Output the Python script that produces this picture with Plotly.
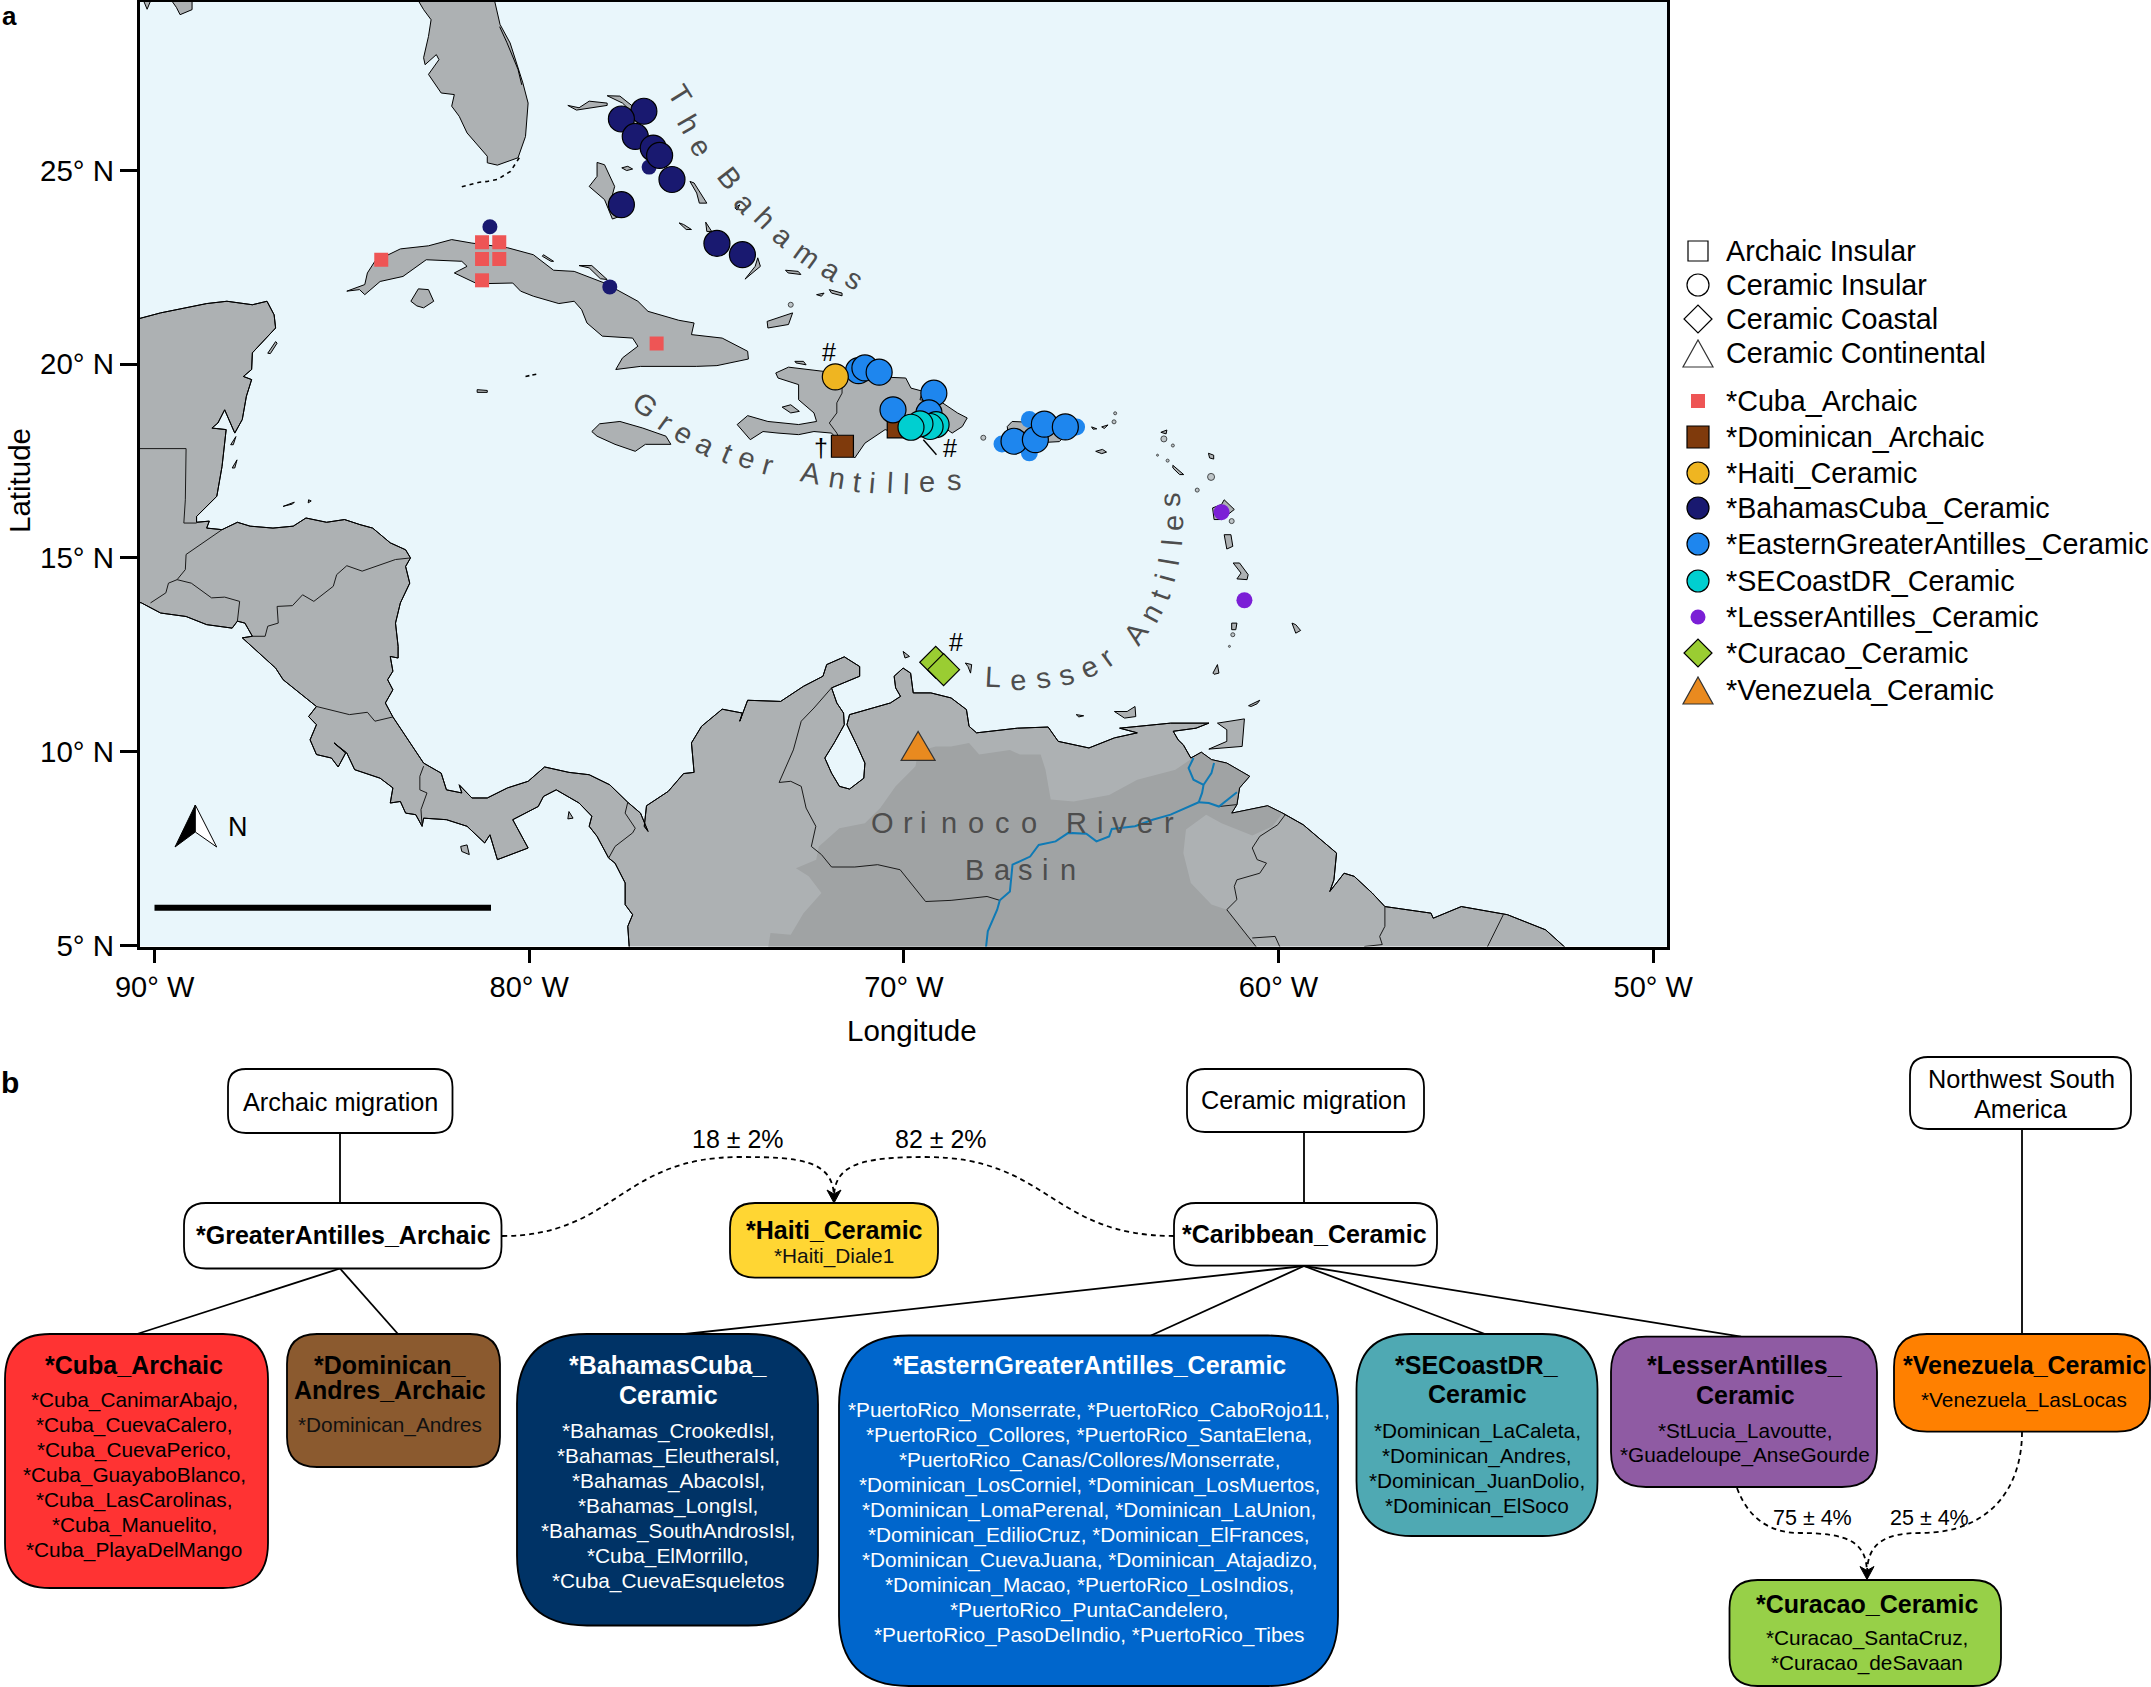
import plotly.graph_objects as go

W, H = 2151, 1687
FONT = "Liberation Sans"
# ---------- map data (lon, lat) ----------
mainland = [(-91.3,21.5),(-90.5,21.15),(-89.84,21.32),(-88.61,21.56),(-88.07,21.62),(-87.39,21.53),(-87.0,21.62),(-86.81,21.27),(-86.77,20.93),(-87.05,20.63),(-87.39,20.29),(-87.41,19.86),(-87.63,19.68),(-87.41,19.6),(-87.55,19.17),(-87.66,18.57),(-87.86,18.22),(-88.13,18.82),(-88.31,18.48),(-88.47,18.35),(-88.09,18.31),(-88.2,17.36),(-88.27,17.02),(-88.34,16.59),(-88.88,16.07),(-88.88,15.92),(-88.54,15.95),(-88.61,15.77),(-88.2,15.73),(-87.79,15.92),(-87.45,15.82),(-86.84,15.77),(-86.3,15.82),(-85.96,16.03),(-85.41,15.92),(-84.93,15.99),(-84.52,15.86),(-84.18,15.77),(-83.71,15.39),(-83.3,15.21),(-83.17,15.0),(-83.3,14.78),(-83.19,14.35),(-83.44,13.84),(-83.57,13.32),(-83.5,12.72),(-83.5,12.42),(-83.71,12.46),(-83.64,12.08),(-83.78,11.86),(-83.64,11.6),(-83.84,11.26),(-83.64,10.9),(-83.3,10.4),(-82.82,9.71),(-82.35,9.45),(-82.21,9.02),(-81.8,8.94),(-81.87,9.15),(-81.53,8.81),(-81.12,8.81),(-80.58,9.07),(-80.03,9.24),(-79.59,9.61),(-78.94,9.47),(-78.4,9.41),(-77.85,9.15),(-77.37,8.7),(-77.03,8.42),(-76.83,7.95),(-76.93,8.08),(-76.87,8.61),(-76.29,8.98),(-75.88,9.44),(-75.6,9.47),(-75.67,10.23),(-75.4,10.66),(-74.85,11.1),(-74.31,11.0),(-74.38,10.79),(-74.17,11.33),(-73.29,11.3),(-72.68,11.69),(-72.16,11.95),(-72.06,12.25),(-71.59,12.45),(-71.18,12.2),(-71.18,11.95),(-71.93,11.65),(-71.79,11.26),(-71.61,11.0),(-71.59,10.7),(-71.86,10.23),(-72.11,9.84),(-71.93,9.45),(-71.72,9.11),(-71.45,9.04),(-71.07,9.32),(-71.04,9.71),(-71.24,10.14),(-71.52,10.7),(-71.45,10.96),(-70.36,11.26),(-70.09,11.43),(-70.22,11.65),(-70.26,11.95),(-70.02,12.16),(-69.82,12.03),(-69.75,11.52),(-69.28,11.52),(-68.74,11.39),(-68.33,11.09),(-68.26,10.66),(-68.06,10.49),(-66.97,10.61),(-66.15,10.64),(-65.88,10.27),(-65.06,10.1),(-64.38,10.36),(-63.77,10.49),(-64.24,10.61),(-62.88,10.74),(-61.86,10.74),(-62.2,10.61),(-62.81,10.53),(-62.68,10.31),(-62.54,10.18),(-62.34,9.84),(-62.06,9.99),(-61.79,9.8),(-61.38,9.71),(-60.77,9.37),(-61.04,9.07),(-61.11,8.64),(-61.25,8.42),(-60.29,8.61),(-59.89,8.42),(-59.34,8.12),(-58.45,7.39),(-58.52,6.7),(-58.63,6.4),(-58.25,6.87),(-57.98,6.79),(-57.5,6.36),(-57.16,6.01),(-55.93,5.84),(-55.87,5.71),(-55.12,6.01),(-54.03,5.84),(-53.89,5.8),(-52.87,5.41),(-52.33,4.94),(-52.33,4.5),(-77.33,4.5),(-77.33,4.94),(-77.37,5.5),(-77.24,5.8),(-77.44,6.06),(-77.44,6.62),(-77.71,7.13),(-77.88,7.26),(-78.19,7.82),(-78.4,8.08),(-78.33,8.34),(-78.67,8.68),(-79.28,9.02),(-79.62,8.85),(-79.76,8.59),(-80.44,8.25),(-80.03,7.52),(-80.85,7.22),(-81.05,7.86),(-81.19,7.65),(-81.66,8.08),(-82.21,8.25),(-82.82,8.29),(-82.86,8.08),(-83.03,8.38),(-83.3,8.42),(-83.44,8.72),(-83.71,8.68),(-83.64,9.07),(-83.98,9.32),(-84.66,9.54),(-84.87,9.97),(-85.21,10.23),(-84.9,9.97),(-85.1,9.61),(-85.28,9.84),(-85.68,9.93),(-85.85,10.31),(-85.68,10.7),(-85.89,10.91),(-85.68,11.17),(-86.57,11.86),(-86.77,12.16),(-87.66,12.94),(-87.39,12.98),(-87.59,13.32),(-87.79,13.37),(-87.93,13.19),(-88.61,13.28),(-89.16,13.49),(-89.84,13.58),(-90.35,13.84),(-91.3,14.1)]

florida = [(-83.1,29.6),(-82.82,29.14),(-82.62,28.88),(-82.69,28.45),(-82.82,27.9),(-82.78,27.72),(-82.48,27.98),(-82.41,27.85),(-82.69,27.47),(-82.35,26.99),(-82.0,26.95),(-82.07,26.65),(-81.87,26.39),(-81.66,25.96),(-81.12,25.36),(-81.12,25.19),(-80.85,25.13),(-80.3,25.32),(-80.1,25.87),(-80.03,26.73),(-80.17,27.25),(-80.51,28.28),(-80.78,28.76),(-80.98,29.6)]

cuba = [(-84.87,21.88),(-84.39,22.05),(-84.32,22.35),(-84.12,22.65),(-83.44,22.97),(-82.69,23.05),(-82.07,23.21),(-81.53,23.12),(-80.58,23.0),(-79.89,22.82),(-79.35,22.42),(-78.8,22.39),(-77.99,22.09),(-77.51,21.83),(-77.1,21.62),(-76.83,21.36),(-76.01,21.13),(-75.6,21.06),(-75.67,20.76),(-74.85,20.67),(-74.17,20.33),(-74.15,20.13),(-74.99,19.96),(-75.54,19.94),(-77.03,19.94),(-77.69,19.86),(-77.51,20.16),(-77.1,20.46),(-77.24,20.67),(-78.05,20.72),(-78.46,21.06),(-78.6,21.4),(-78.8,21.62),(-79.21,21.56),(-79.89,21.75),(-80.23,21.88),(-80.44,22.09),(-81.39,22.07),(-82.0,22.35),(-81.66,22.52),(-81.8,22.65),(-82.75,22.69),(-83.37,22.26),(-83.98,22.13),(-84.39,21.79),(-84.53,21.92)]

hispaniola = [(-73.42,19.77),(-73.08,19.92),(-72.13,19.81),(-71.65,19.68),(-70.9,19.68),(-69.95,19.64),(-69.81,19.38),(-69.5,19.3),(-69.57,19.08),(-68.97,19.0),(-68.57,18.74),(-68.31,18.61),(-68.44,18.39),(-68.71,18.22),(-68.84,18.31),(-69.17,18.22),(-70.22,18.22),(-70.5,18.31),(-71.04,17.96),(-71.31,17.58),(-71.65,17.92),(-71.93,18.22),(-72.4,18.26),(-72.81,18.18),(-73.36,18.22),(-73.76,18.26),(-74.1,18.05),(-74.45,18.44),(-74.17,18.67),(-73.63,18.52),(-72.81,18.44),(-72.33,18.52),(-72.4,18.74),(-72.81,19.08),(-72.81,19.47),(-73.36,19.64)]

islands = [
    [(-90.35,29.5),(-90.2,29.15),(-90.05,29.5)],
    [(-89.64,29.5),(-89.42,29.2),(-89.32,29.01),(-89.0,29.14),(-89.0,29.5)],
    [(-67.24,18.39),(-67.11,18.52),(-66.0,18.47),(-65.6,18.38),(-65.65,18.2),(-65.85,18.0),(-66.8,17.95),(-67.2,17.95)],
    [(-78.33,18.26),(-78.12,18.46),(-77.58,18.52),(-76.97,18.35),(-76.35,18.14),(-76.22,17.93),(-76.9,17.93),(-77.17,17.75),(-77.71,17.93),(-78.19,18.14)],
    [(-83.16,21.62),(-82.96,21.94),(-82.69,21.92),(-82.55,21.62),(-82.82,21.45),(-83.0,21.5)],
    [(-73.25,18.89),(-73.02,18.95),(-72.79,18.78),(-73.02,18.74)],
    [(-72.91,20.07),(-72.68,20.07),(-72.61,19.98),(-72.88,20.03)],
    [(-78.97,26.67),(-78.74,26.55),(-77.92,26.67),(-77.92,26.73),(-78.4,26.78),(-78.67,26.61)],
    [(-77.92,26.92),(-77.58,26.91),(-77.24,26.65),(-77.03,26.22),(-77.24,26.48),(-77.51,26.73)],
    [(-78.19,25.2),(-77.99,25.14),(-77.72,24.58),(-77.79,24.33),(-77.58,23.81),(-77.78,23.74),(-77.99,24.24),(-78.4,24.58),(-78.19,24.84)],
    [(-77.53,25.06),(-77.37,25.1),(-77.24,25.03),(-77.4,24.99)],
    [(-75.71,24.71),(-75.6,24.67),(-75.26,24.15),(-75.46,24.15),(-75.53,24.41)],
    [(-74.51,24.03),(-74.38,24.11),(-74.45,23.97)],
    [(-76.0,23.64),(-75.88,23.6),(-75.67,23.47),(-75.81,23.47)],
    [(-75.29,23.66),(-75.13,23.42),(-75.26,23.42)],
    [(-73.9,22.74),(-73.83,22.52),(-74.24,22.19),(-73.97,22.52)],
    [(-73.16,22.42),(-72.82,22.39),(-72.75,22.31),(-73.09,22.35)],
    [(-72.33,21.79),(-72.13,21.83),(-72.2,21.75)],
    [(-71.99,21.92),(-71.65,21.83),(-71.65,21.76),(-71.93,21.83)],
    [(-73.65,21.1),(-73.35,21.19),(-72.97,21.32),(-73.08,21.02),(-73.63,20.93)],
    [(-86.98,20.28),(-86.77,20.58),(-86.73,20.54),(-86.91,20.27)],
    [(-79.62,22.82),(-79.35,22.65),(-79.42,22.65),(-79.65,22.78)],
    [(-78.67,22.54),(-78.33,22.54),(-77.92,22.18),(-78.1,22.2),(-78.4,22.48)],
    [(-81.39,19.34),(-81.12,19.32),(-81.12,19.27),(-81.39,19.27)],
    [(-86.57,16.33),(-86.27,16.44),(-86.32,16.39)],
    [(-85.89,16.5),(-85.82,16.47),(-85.9,16.42)],
    [(-87.97,17.92),(-87.83,18.13),(-87.9,17.92)],
    [(-87.93,17.32),(-87.8,17.53),(-87.86,17.32)],
    [(-81.83,7.56),(-81.66,7.6),(-81.6,7.35),(-81.8,7.43)],
    [(-78.94,8.46),(-78.83,8.29),(-78.97,8.27)],
    [(-70.02,12.59),(-69.85,12.46),(-69.97,12.42)],
    [(-68.36,12.29),(-68.19,12.25),(-68.22,12.03),(-68.29,12.2)],
    [(-64.38,11.04),(-64.04,11.04),(-63.83,11.17),(-63.81,10.91),(-64.11,10.87)],
    [(-65.4,10.96),(-65.2,10.93),(-65.33,10.9)],
    [(-61.63,10.74),(-60.91,10.85),(-60.97,10.14),(-61.38,10.1),(-61.86,10.07),(-61.38,10.27),(-61.38,10.57)],
    [(-60.8,11.19),(-60.5,11.33),(-60.57,11.24),(-60.73,11.17)],
    [(-61.75,12.03),(-61.63,12.25),(-61.59,12.03),(-61.72,12.0)],
    [(-59.64,13.32),(-59.54,13.28),(-59.41,13.13),(-59.54,13.06)],
    [(-61.25,13.32),(-61.11,13.32),(-61.14,13.15),(-61.25,13.15)],
    [(-61.21,14.87),(-61.04,14.87),(-60.81,14.57),(-60.84,14.44),(-61.11,14.46),(-61.0,14.61)],
    [(-61.45,15.6),(-61.27,15.6),(-61.22,15.3),(-61.38,15.23)],
    [(-61.76,16.29),(-61.52,16.38),(-61.45,16.5),(-61.18,16.25),(-61.52,15.99),(-61.72,15.99)],
    [(-61.87,17.7),(-61.73,17.65),(-61.73,17.55),(-61.84,17.58)],
    [(-62.82,17.39),(-62.53,17.15),(-62.64,17.15),(-62.82,17.32)],
    [(-63.14,18.24),(-62.98,18.3),(-63.0,18.2)],
    [(-64.88,17.75),(-64.7,17.8),(-64.59,17.73),(-64.72,17.69)],
    [(-64.99,18.38),(-64.85,18.33),(-64.95,18.32)],
    [(-64.72,18.38),(-64.55,18.43),(-64.65,18.34)],
]
tiny_lon = [-73.02,-62.17,-61.25,-61.22,-61.31,-61.8,-62.96,-63.23,-62.82,-63.06,-64.39,-64.36,-67.88]
tiny_lat = [21.53,16.75,15.95,13.02,12.72,17.09,17.51,17.65,17.9,18.07,18.51,18.73,18.1]
tiny_size = [5,4,5,4,2,7,3,2,3,6,4,3,5]

keys_lon = [-81.8,-81.33,-81.12,-80.85,-80.5,-80.24]
keys_lat = [24.57,24.69,24.71,24.76,24.97,25.36]
cayman_lon = [-80.1,-79.76]
cayman_lat = [19.68,19.75]
lagoon = [(-80.79,28.7),(-80.6,28.3),(-80.3,27.6),(-80.2,27.2)]

borders = [
    [(-91.3,17.82),(-89.16,17.82),(-89.18,16.5),(-89.22,15.9),(-88.88,15.9)],
    [(-88.2,15.73),(-89.16,15.09),(-89.18,14.7),(-89.4,14.44),(-89.63,14.35),(-89.7,14.1),(-90.11,13.84)],
    [(-89.4,14.44),(-89.02,14.35),(-88.48,13.97),(-88.13,13.99),(-87.73,13.88),(-87.79,13.37)],
    [(-83.17,15.0),(-83.57,14.96),(-84.46,14.66),(-84.87,14.8),(-85.14,14.57),(-85.23,14.27),(-85.75,13.88),(-86.05,14.05),(-86.32,13.77),(-86.73,13.75),(-86.7,13.32),(-86.98,13.24),(-87.05,12.98),(-87.39,12.98)],
    [(-85.68,11.17),(-84.8,10.96),(-84.32,11.02),(-84.12,10.79),(-83.64,10.9)],
    [(-82.82,9.63),(-82.92,9.37),(-82.92,9.02),(-82.73,8.94),(-82.89,8.51),(-82.86,8.08)],
    [(-77.88,7.26),(-77.71,7.56),(-77.24,7.91),(-77.17,8.03),(-77.44,8.42),(-77.37,8.7)],
    [(-71.93,11.65),(-72.4,11.13),(-72.74,10.79),(-72.95,10.05),(-73.33,9.21),(-73.02,9.24),(-72.74,9.11),(-72.61,8.55),(-72.35,8.08),(-72.47,7.56),(-72.2,7.35),(-71.93,7.03),(-71.31,7.03),(-70.7,7.09),(-70.1,6.96),(-69.42,6.14),(-68.74,6.17),(-67.78,6.27),(-67.44,6.17)],
    [(-59.82,8.38),(-60.02,8.12),(-60.5,7.82),(-60.7,7.52),(-60.57,7.22),(-60.32,7.13),(-60.5,6.87),(-61.11,6.7),(-61.18,6.53),(-61.11,6.19),(-61.38,5.93),(-60.57,4.94)],
    [(-60.7,5.2),(-60.09,5.24),(-59.95,4.94)],
    [(-57.16,6.01),(-57.16,5.5),(-57.3,5.24),(-57.23,5.03),(-57.71,4.98)],
    [(-54.0,5.8),(-54.44,4.94)],
    [(-71.65,19.68),(-71.65,19.25),(-71.79,19.0),(-71.79,18.74),(-71.99,18.48),(-71.79,18.22),(-71.65,17.92)],
    [(-61.59,8.59),(-61.11,8.64)],
]

basin = [(-73.7,4.5),(-73.56,5.33),(-73.02,5.28),(-72.68,5.84),(-72.2,6.36),(-72.54,6.79),(-72.88,7.0),(-72.34,7.22),(-72.27,7.56),(-71.72,8.03),(-71.04,8.16),(-70.63,8.55),(-70.22,9.11),(-69.69,9.63),(-69.62,10.01),(-69.15,10.14),(-68.74,10.14),(-68.26,10.23),(-67.99,9.93),(-67.17,10.05),(-66.9,9.93),(-66.35,9.93),(-66.22,9.54),(-66.08,8.77),(-65.47,8.72),(-64.52,8.89),(-63.77,9.28),(-62.75,9.54),(-62.34,9.81),(-62.06,9.99),(-61.79,9.8),(-61.38,9.71),(-60.77,9.37),(-61.04,9.07),(-61.11,8.64),(-61.25,8.42),(-60.29,8.61),(-59.89,8.42),(-60.16,8.08),(-60.7,7.84),(-61.52,8.16),(-61.93,8.38),(-62.47,8.0),(-62.54,7.39),(-62.34,6.62),(-61.79,6.06),(-61.38,5.93),(-60.57,4.94),(-60.57,4.5)]

orinoco = [(-67.81,4.94),(-67.76,5.37),(-67.51,5.93),(-67.44,6.17),(-67.17,6.4),(-67.1,7.09),(-66.63,7.3),(-66.4,7.6),(-65.95,7.69),(-65.61,7.91),(-65.13,7.89),(-64.86,7.69),(-64.52,7.82),(-64.45,8.01),(-63.83,8.08),(-63.36,8.25),(-62.88,8.38),(-62.13,8.7)]
orinoco_n = [(-62.13,8.7),(-62.04,8.94),(-62.0,9.15),(-61.79,9.45),(-61.72,9.71)]
orinoco_w = [(-62.0,9.15),(-62.27,9.28),(-62.4,9.58),(-62.27,9.84)]
orinoco_e = [(-62.13,8.7),(-61.86,8.68),(-61.59,8.59),(-61.11,8.96)]

# ---------- archaeological sites ----------
cuba_arch_lon = [-83.95,-81.26,-80.80,-81.26,-80.80,-81.26,-76.60]
cuba_arch_lat = [22.69,23.14,23.14,22.71,22.71,22.16,20.53]
dom_arch_lon = [-71.64,-70.15]
dom_arch_lat = [17.88,18.38]
haiti_lon = [-71.83]
haiti_lat = [19.67]
bahamas_small_lon = [-76.80,-81.05,-77.85]
bahamas_small_lat = [25.08,23.54,21.99]
bahamas_lon = [-76.94,-77.54,-77.17,-76.69,-76.52,-76.19,-77.54,-74.99,-74.31]
bahamas_lat = [26.52,26.32,25.87,25.57,25.38,24.76,24.11,23.11,22.82]
egAnt_small_lon = [-67.38,-66.65,-66.65,-65.39]
egAnt_small_lat = [17.94,18.57,17.71,18.38]
egAnt_lon = [-71.21,-71.04,-70.66,-70.29,-69.20,-69.33,-67.06,-66.49,-66.25,-65.69]
egAnt_lat = [19.83,19.90,19.79,18.82,19.25,18.74,18.01,18.05,18.45,18.38]
secoast_lon = [-69.14,-69.30,-69.57,-69.81]
secoast_lat = [18.44,18.39,18.46,18.37]
lesser_lon = [-61.52,-60.91]
lesser_lat = [16.18,13.91]
curacao_lon = [-69.15,-68.94]
curacao_lat = [12.31,12.12]
venezuela_lon = -69.62
venezuela_lat = 10.14

# ---------- axis labels ----------
x_tickvals = [-90,-80,-70,-60,-50]
x_ticktext = ["90° W","80° W","70° W","60° W","50° W"]
y_tickvals = [5,10,15,20,25]
y_ticktext = ["5° N","10° N","15° N","20° N","25° N"]

# ---------- curved map lettering: letter, x, y, angle ----------
lbl_bahamas = [("T",680,95,58),("h",689,124,60),("e",701,147,58),("B",729.5,178,52),("a",745,203,48),("h",765,218,45),("a",783,236,40),("m",807,255,36),("a",831.5,270,32),("s",854.5,279,30)]
lbl_greater = [("G",645,405,38),("r",666,422,36),("e",683.5,433,33),("a",705.5,445,28),("t",727,453,23),("e",747,458,19),("r",768,465,15),("A",811,473,11),("n",836.6,478,9),("t",857,482,7),("i",872,483,5),("l",890,483,3),("l",905.5,484,2),("e",927,482,0),("s",954,480,-2)]
lbl_lesser = [("L",993,677,3),("e",1018,680,-5),("s",1043,678,-10),("s",1066,675,-16),("e",1089,667,-25),("r",1107,657,-36),("A",1136,633,-55),("n",1151,613,-62),("t",1160,595,-70),("i",1165,578,-75),("l",1169,562,-80),("l",1172,543,-85),("e",1173,523,-88),("s",1170,500,-92)]
lbl_orinoco = [("O",882.6,823,0),("r",907.6,823,0),("i",923,823,0),("n",948.5,823,0),("o",975.5,823,0),("c",1002,823,0),("o",1028.6,823,0),("R",1076,823,0),("i",1100,823,0),("v",1119,823,0),("e",1145,823,0),("r",1169,823,0)]
lbl_basin = [("B",974,870,0),("a",1002,870,0),("s",1025,870,0),("i",1045,870,0),("n",1068,870,0)]

# ---------- legend ----------
leg_names = ["Archaic Insular","Ceramic Insular","Ceramic Coastal","Ceramic Continental","*Cuba_Archaic","*Dominican_Archaic","*Haiti_Ceramic","*BahamasCuba_Ceramic","*EasternGreaterAntilles_Ceramic","*SECoastDR_Ceramic","*LesserAntilles_Ceramic","*Curacao_Ceramic","*Venezuela_Ceramic"]
leg_y = [251,285,319,353,401,437,473,508,544,581,617,653,690]
leg_symbols = ["square","circle","diamond",None,"square","square","circle","circle","circle","circle","circle","diamond",None]
leg_sizes = [20,22,21.5,None,14,22,22,22,22,22,15,21.5,None]
leg_fills = ["white","white","white","white","#ee5555","#7f3a0c","#efb521","#191970","#1e86ee","#00cfd0","#7b1fd6","#9acd32","#e98a1f"]
leg_outline = [1,1,1,1,0,1,1,1,1,1,0,1,1]

# ---------- panel b: boxes ----------
boxes = [
    (228,452.5,1069,1133,18,"white"),
    (184,501.5,1203,1268.5,22,"white"),
    (5,268,1334,1588,45,"#ff3333"),
    (287,500,1334,1467,30,"#8b5a2f"),
    (517,818,1334,1625.5,70,"#003366"),
    (730,938,1203,1277.6,25,"#ffd633"),
    (1187,1424,1069,1132,18,"white"),
    (1174,1437,1203,1265.6,22,"white"),
    (839,1338,1335.5,1686,70,"#0066cc"),
    (1356.5,1597.5,1334,1536,55,"#4fa9b3"),
    (1611,1877,1336.7,1487,35,"#8f5ba3"),
    (1894,2150,1334,1431.7,33,"#ff8000"),
    (1729.5,2001,1580,1686,28,"#97d048"),
    (1910,2131,1057,1129,18,"white"),
]
links = [
    (340,1133,340,1203),(340,1268.5,137,1334),(340,1268.5,398,1334),
    (1304,1132,1304,1203),(1304,1266,685,1334),(1304,1266,1151,1335.5),
    (1304,1266,1485,1334),(1304,1266,1741,1336.7),(2022,1129,2022,1334),
]
curves = [
    "M502,1236 C615,1236 620,1157 740,1157 C800,1157 834,1160 834,1198",
    "M1174,1236 C1050,1236 1050,1157 925,1157 C860,1157 834,1165 834,1198",
    "M1737,1488 C1750,1523 1775,1533 1800,1533 C1850,1533 1867,1543 1867,1574",
    "M2022,1432 C2022,1488 1990,1533 1920,1533 C1885,1533 1867,1543 1867,1574",
]
arrow_tips = [(834,1203),(1867,1579.5)]

# (x, y, text, size, bold, colour)
T, S = 25, 20.8
texts = [
    (340,1102,"Archaic migration",25.3,False,"black"),
    (1303.5,1100,"Ceramic migration",25.3,False,"black"),
    (2021,1079,"Northwest South",25.3,False,"black"),
    (2021,1109,"America",25.3,False,"black"),
    (343,1235,"*GreaterAntilles_Archaic",T,True,"black"),
    (1304.5,1234,"*Caribbean_Ceramic",T,True,"black"),
    (834,1230,"*Haiti_Ceramic",T,True,"black"),
    (834,1256,"*Haiti_Diale1",S,False,"#111111"),
    (738,1139,"18 ± 2%",25,False,"black"),
    (941,1139,"82 ± 2%",25,False,"black"),
    (1812,1518,"75 ± 4%",21.5,False,"black"),
    (1929,1518,"25 ± 4%",21.5,False,"black"),
    (134,1365,"*Cuba_Archaic",T,True,"black"),
    (390,1365,"*Dominican_",T,True,"black"),
    (390,1390,"Andres_Archaic",T,True,"black"),
    (390,1425,"*Dominican_Andres",S,False,"#111111"),
    (668,1365,"*BahamasCuba_",T,True,"white"),
    (668,1395,"Ceramic",T,True,"white"),
    (1089,1365,"*EasternGreaterAntilles_Ceramic",T,True,"white"),
    (1477,1365,"*SECoastDR_",T,True,"black"),
    (1477,1394,"Ceramic",T,True,"black"),
    (1745,1365,"*LesserAntilles_",T,True,"black"),
    (1745,1395,"Ceramic",T,True,"black"),
    (1745,1430.5,"*StLucia_Lavoutte,",S,False,"black"),
    (1745,1455.3,"*Guadeloupe_AnseGourde",S,False,"black"),
    (2024,1365,"*Venezuela_Ceramic",T,True,"black"),
    (2024,1400.3,"*Venezuela_LasLocas",S,False,"black"),
    (1867,1603.5,"*Curacao_Ceramic",T,True,"black"),
    (1867,1638.3,"*Curacao_SantaCruz,",S,False,"black"),
    (1867,1663,"*Curacao_deSavaan",S,False,"black"),
]
cuba_sites = ["*Cuba_CanimarAbajo,","*Cuba_CuevaCalero,","*Cuba_CuevaPerico,","*Cuba_GuayaboBlanco,","*Cuba_LasCarolinas,","*Cuba_Manuelito,","*Cuba_PlayaDelMango"]
bahamas_sites = ["*Bahamas_CrookedIsl,","*Bahamas_EleutheraIsl,","*Bahamas_AbacoIsl,","*Bahamas_LongIsl,","*Bahamas_SouthAndrosIsl,","*Cuba_ElMorrillo,","*Cuba_CuevaEsqueletos"]
eastern_sites = ["*PuertoRico_Monserrate, *PuertoRico_CaboRojo11,","*PuertoRico_Collores, *PuertoRico_SantaElena,","*PuertoRico_Canas/Collores/Monserrate,","*Dominican_LosCorniel, *Dominican_LosMuertos,","*Dominican_LomaPerenal, *Dominican_LaUnion,","*Dominican_EdilioCruz, *Dominican_ElFrances,","*Dominican_CuevaJuana, *Dominican_Atajadizo,","*Dominican_Macao, *PuertoRico_LosIndios,","*PuertoRico_PuntaCandelero,","*PuertoRico_PasoDelIndio, *PuertoRico_Tibes"]
secoast_sites = ["*Dominican_LaCaleta,","*Dominican_Andres,","*Dominican_JuanDolio,","*Dominican_ElSoco"]
for names, x0, y0, col in [(cuba_sites,134,1400,"black"),(bahamas_sites,668,1430.5,"white"),(eastern_sites,1089,1410,"white"),(secoast_sites,1477,1430.5,"black")]:
    for i, n in enumerate(names):
        texts.append((x0, y0+i*25, n, S, False, col))


def xy(pts, close=False):
    xs = [p[0] for p in pts]
    ys = [p[1] for p in pts]
    if close:
        xs.append(xs[0]); ys.append(ys[0])
    return xs, ys


fig = go.Figure()


def poly(pts, fill, line=True):
    x, y = xy(pts, True)
    fig.add_trace(go.Scatter(x=x, y=y, mode="lines", fill="toself", fillcolor=fill,
                             line=dict(color="black" if line else "rgba(0,0,0,0)", width=1 if line else 0),
                             hoverinfo="skip", showlegend=False, xaxis="x", yaxis="y"))


def path(pts, color="#111111", width=1, dash=None):
    x, y = xy(pts)
    fig.add_trace(go.Scatter(x=x, y=y, mode="lines", line=dict(color=color, width=width, dash=dash),
                             hoverinfo="skip", showlegend=False, xaxis="x", yaxis="y"))


LAND, DARK = "#adb1b3", "#a0a3a4"
poly(mainland, LAND)
poly(basin, DARK, line=False)
path(mainland + mainland[:1], "black", 1)
poly(florida, LAND)
poly(cuba, LAND)
poly(hispaniola, LAND)
for isl in islands:
    poly(isl, LAND)
for b in borders:
    path(b, "#1a1a1a", 1)
path(lagoon, "black", 1)
fig.add_trace(go.Scatter(x=keys_lon, y=keys_lat, mode="lines", line=dict(color="black", width=1.6, dash="4px,4px"), showlegend=False, hoverinfo="skip"))
fig.add_trace(go.Scatter(x=cayman_lon, y=cayman_lat, mode="lines", line=dict(color="black", width=1.6, dash="4px,3px"), showlegend=False, hoverinfo="skip"))
fig.add_trace(go.Scatter(x=tiny_lon, y=tiny_lat, mode="markers", marker=dict(size=tiny_size, color=LAND, line=dict(color="black", width=1)), showlegend=False, hoverinfo="skip"))
for r in (orinoco, orinoco_n, orinoco_w, orinoco_e):
    path(r, "#0f7ab5", 2)


def sites(lon, lat, symbol, size, color, outline=True):
    fig.add_trace(go.Scatter(x=lon, y=lat, mode="markers",
                             marker=dict(symbol=symbol, size=size, color=color,
                                         line=dict(color="black", width=1.2 if outline else 0)),
                             showlegend=False, hoverinfo="skip"))


sites(cuba_arch_lon, cuba_arch_lat, "square", 14, "#ee5555", False)
sites(bahamas_small_lon, bahamas_small_lat, "circle", 15, "#191970", False)
sites(bahamas_lon, bahamas_lat, "circle", 26, "#191970")
sites(egAnt_small_lon, egAnt_small_lat, "circle", 17, "#1e86ee", False)
sites(dom_arch_lon, dom_arch_lat, "square", 22, "#7f3a0c")
sites(egAnt_lon, egAnt_lat, "circle", 26, "#1e86ee")
sites(secoast_lon, secoast_lat, "circle", 26, "#00cfd0")
sites(haiti_lon, haiti_lat, "circle", 26, "#efb521")
sites(lesser_lon, lesser_lat, "circle", 16, "#7b1fd6", False)
sites(curacao_lon, curacao_lat, "diamond", 24.6, "#9acd32")

# ---- full-figure overlay axis for legend and panel b ----
shapes = []
annots = []

PX = dict(xref="x2", yref="y2")


def label(x, y, text, size, color="black", bold=False, angle=0, xanchor="center"):
    annots.append(dict(x=x, y=y, text=f"<b>{text}</b>" if bold else text, showarrow=False,
                       font=dict(family=FONT, size=size, color=color), textangle=angle,
                       xanchor=xanchor, yanchor="middle", **PX))


# sea background of the map only
shapes.append(dict(type="rect", xref="x", yref="y", x0=-90.39, x1=-49.6, y0=4.98, y1=29.35,
                   fillcolor="#e9f6fb", line=dict(width=0), layer="below"))

# Venezuela triangle on the map
shapes.append(dict(type="path", xref="x", yref="y", xsizemode="pixel", ysizemode="pixel",
                   xanchor=venezuela_lon, yanchor=venezuela_lat,
                   path="M -17,-14 L 17,-14 L 0,15 Z", fillcolor="#e98a1f",
                   line=dict(color="#333333", width=1.2)))

# legend
LEG_X, LEG_TX = 1698, 1723.5
for name, y, sym, sz, fill, ol in zip(leg_names, leg_y, leg_symbols, leg_sizes, leg_fills, leg_outline):
    if sym:
        fig.add_trace(go.Scatter(x=[LEG_X], y=[y], mode="markers", xaxis="x2", yaxis="y2",
                                 marker=dict(symbol=sym, size=sz, color=fill,
                                             line=dict(color="black", width=1.2 if ol else 0)),
                                 showlegend=False, hoverinfo="skip"))
    else:
        shapes.append(dict(type="path", path=f"M{LEG_X-15},{y+14} L{LEG_X+15},{y+14} L{LEG_X},{y-13} Z",
                           fillcolor=fill, line=dict(color="#333333", width=1.2), **PX))
    label(LEG_TX, y, name, 28.7, xanchor="left")

# lettering on map
for group in (lbl_bahamas, lbl_greater, lbl_lesser, lbl_orinoco, lbl_basin):
    for ch, x, y, ang in group:
        label(x, y, ch, 29, color="#4d4d4d", angle=ang)
for x, y, t in [(829,352,"#"),(821,448,"†"),(950,448,"#"),(956,642,"#")]:
    label(x, y, t, 25)

# connector from site to #
shapes.append(dict(type="line", xref="x", yref="y", x0=-69.48, y0=18.05, x1=-69.13, y1=17.66, line=dict(color="black", width=1.4)))

# north arrow and scale bar
shapes.append(dict(type="path", path="M195.3,805 L195.3,832 L175,847 Z", fillcolor="black", line=dict(color="black", width=1), **PX))
shapes.append(dict(type="path", path="M195.3,805 L216.7,847 L195.3,832 Z", fillcolor="white", line=dict(color="black", width=1), **PX))
label(238, 827, "N", 27)
shapes.append(dict(type="line", x0=154.5, x1=491, y0=907.7, y1=907.7, line=dict(color="black", width=6), **PX))

# panel b
for x0, y0, x1, y1 in links:
    shapes.append(dict(type="line", x0=x0, y0=y0, x1=x1, y1=y1, line=dict(color="black", width=1.8), **PX))
for p in curves:
    shapes.append(dict(type="path", path=p, line=dict(color="black", width=1.8, dash="5px,4px"), **PX))
for x, y in arrow_tips:
    shapes.append(dict(type="path", path=f"M{x},{y} L{x-7},{y-13} L{x},{y-9} L{x+7},{y-13} Z", fillcolor="black", line=dict(color="black", width=1), **PX))
for x0, x1, y0, y1, r, fill in boxes:
    d = (f"M{x0+r},{y0} L{x1-r},{y0} Q{x1},{y0} {x1},{y0+r} L{x1},{y1-r} Q{x1},{y1} {x1-r},{y1} "
         f"L{x0+r},{y1} Q{x0},{y1} {x0},{y1-r} L{x0},{y0+r} Q{x0},{y0} {x0+r},{y0} Z")
    shapes.append(dict(type="path", path=d, fillcolor=fill, line=dict(color="black", width=1.8), **PX))
for x, y, t, s, b, c in texts:
    label(x, y, t, s, color=c, bold=b)
label(912, 1030, "Longitude", 29.5)
label(19, 481, "Latitude", 29.5, angle=-90)
label(9, 15.5, "a", 26, bold=True)
label(10, 1082, "b", 30, bold=True)

fig.update_layout(
    template="none",
    width=W, height=H, autosize=False, margin=dict(l=0, r=0, t=0, b=0, pad=0),
    paper_bgcolor="white", plot_bgcolor="rgba(0,0,0,0)", showlegend=False,
    font=dict(family=FONT, color="black"),
    shapes=shapes, annotations=annots,
    xaxis=dict(domain=[140/W, 1667/W], range=[-90.39, -49.63], tickmode="array", tickvals=x_tickvals, ticktext=x_ticktext,
               ticks="outside", ticklen=13, tickwidth=2.5, tickcolor="black", showgrid=False, zeroline=False, automargin=False,
               showline=True, mirror=True, linecolor="black", linewidth=3, tickfont=dict(size=29, family=FONT), anchor="y"),
    yaxis=dict(domain=[1-946.5/H, 1-1.5/H], range=[4.98, 29.35], tickmode="array", tickvals=y_tickvals, ticktext=y_ticktext,
               ticks="outside", ticklen=17, tickwidth=2.5, tickcolor="black", showgrid=False, zeroline=False, automargin=False,
               showline=True, mirror=True, linecolor="black", linewidth=3, tickfont=dict(size=29.5, family=FONT), anchor="x"),
    xaxis2=dict(domain=[0, 1], range=[0, W], visible=False, anchor="y2", fixedrange=True, automargin=False),
    yaxis2=dict(domain=[0, 1], range=[H, 0], visible=False, anchor="x2", fixedrange=True, automargin=False),
)

fig.write_html("out.html", config=dict(displayModeBar=False),
               post_script="document.body.style.margin='0';document.documentElement.style.overflow='hidden';")
